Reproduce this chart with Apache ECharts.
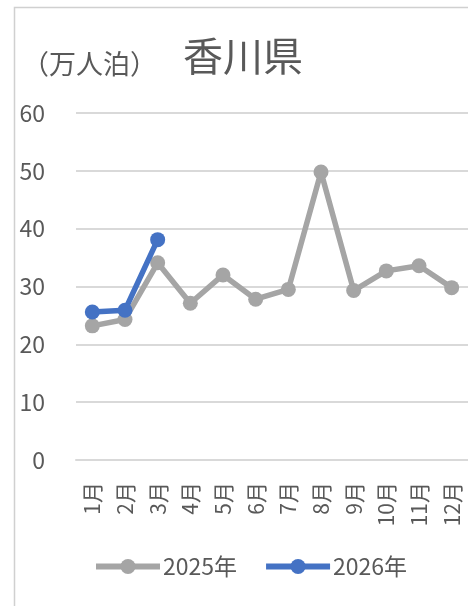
<!DOCTYPE html>
<html><head><meta charset="utf-8">
<script src="https://cdn.jsdelivr.net/npm/echarts@6/dist/echarts.min.js"></script>
<style>html,body{margin:0;padding:0;background:#fff;}#c{width:468px;height:606px;}</style>
</head><body><div id="c"></div>
<script>
const categories = ['1月','2月','3月','4月','5月','6月','7月','8月','9月','10月','11月','12月'];
const yTicks = [0,10,20,30,40,50,60];
const s2025 = [23.2,24.3,34.1,27.1,32.0,27.8,29.5,49.8,29.3,32.7,33.6,29.8];
const s2026 = [25.6,25.9,38.1];
const FONT = '"Noto Sans CJK JP","Noto Sans",sans-serif';
const TXT = '#595959';
const chart = echarts.init(document.getElementById('c'));
chart.setOption({
  animation:false,
  textStyle:{fontFamily:FONT},
  graphic:[
    {type:'rect',shape:{x:14.5,y:7.5,width:600,height:700},style:{fill:'none',stroke:'#D0D0D0',lineWidth:1.5},z:-1},
    {type:'text',left:22,top:50,style:{text:'（万人泊）',font:'27px '+FONT,fill:TXT}},
    {type:'text',left:183,top:36,style:{text:'香川県',font:'40px '+FONT,fill:TXT}}
  ],
  grid:{left:76,right:-8,top:113,bottom:146,containLabel:false},
  legend:{top:550,left:88,itemWidth:64,itemHeight:19,itemGap:26,
    lineStyle:{width:6},
    textStyle:{fontSize:23,color:TXT,fontFamily:FONT,padding:[0,0,0,-2]},
    data:['2025年','2026年']},
  xAxis:{type:'category',data:categories,boundaryGap:true,
    axisLine:{show:true,lineStyle:{color:'#D9D9D9',width:2}},
    axisTick:{show:false},
    axisLabel:{rotate:90,fontSize:21,color:TXT,margin:22,interval:0,fontFamily:FONT}},
  yAxis:{type:'value',min:0,max:60,interval:10,
    axisLine:{show:false},axisTick:{show:false},
    splitLine:{lineStyle:{color:'#D9D9D9',width:2}},
    axisLabel:{fontSize:23,color:TXT,margin:31,fontFamily:FONT}},
  series:[
    {name:'2025年',type:'line',data:s2025,color:'#A5A5A5',symbol:'circle',symbolSize:15,
     lineStyle:{width:5.5,color:'#A5A5A5'},itemStyle:{color:'#A5A5A5'},z:2},
    {name:'2026年',type:'line',data:s2026,color:'#4472C4',symbol:'circle',symbolSize:15,
     lineStyle:{width:5.5,color:'#4472C4'},itemStyle:{color:'#4472C4'},z:3}
  ]
});
</script></body></html>
